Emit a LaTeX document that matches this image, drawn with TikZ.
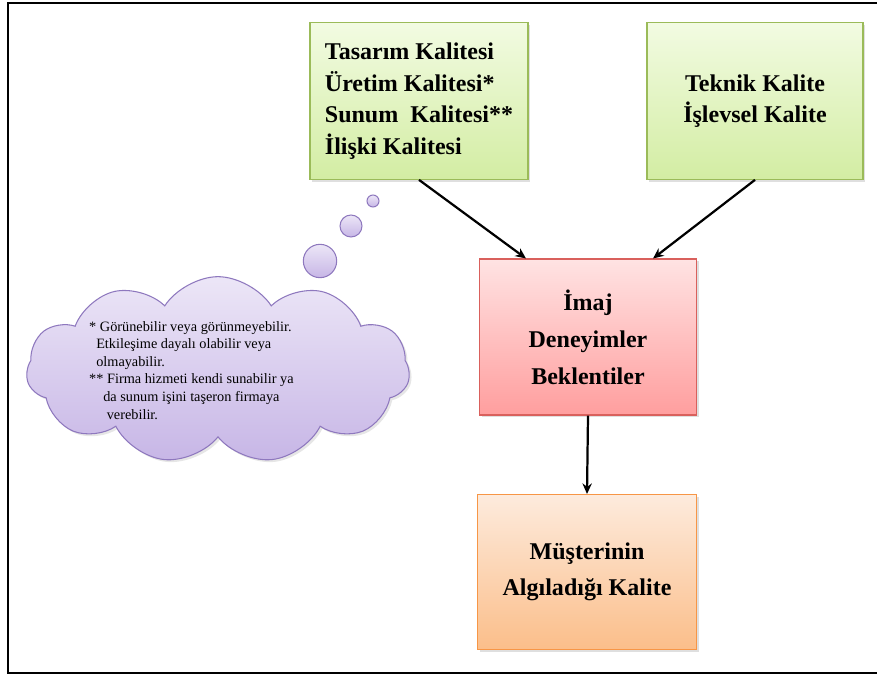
\documentclass[tikz,border=0pt]{standalone}
\usepackage{fontspec}
\setmainfont{Liberation Serif}
\usetikzlibrary{arrows.meta,shapes.symbols,shadows}

\definecolor{yesilkenar}{HTML}{9BBB59}
\definecolor{yesilust}{HTML}{F2FBE2}
\definecolor{yesilalt}{HTML}{D3EDA3}
\definecolor{kirmizikenar}{HTML}{D9605C}
\definecolor{kirmiziust}{HTML}{FFE3E3}
\definecolor{kirmizialt}{HTML}{FF9E9E}
\definecolor{turuncukenar}{HTML}{F79646}
\definecolor{turuncuust}{HTML}{FDEBDD}
\definecolor{turuncualt}{HTML}{FBBE8A}
\definecolor{morkenar}{HTML}{8E78BE}
\definecolor{morust}{HTML}{ECE6F7}
\definecolor{moralt}{HTML}{C7B6E6}

\tikzset{
  kutu/.style={draw, line width=0.9pt, minimum width=6.54cm, minimum height=4.7cm,
    font=\fontsize{20.5}{27}\selectfont\bfseries,
    drop shadow={opacity=0.25, shadow xshift=2pt, shadow yshift=-2pt}},
  yesil/.style={kutu, draw=yesilkenar, top color=yesilust, bottom color=yesilalt},
  kirmizi/.style={kutu, draw=kirmizikenar, top color=kirmiziust, bottom color=kirmizialt,
    font=\fontsize{20.5}{31.5}\selectfont\bfseries},
  turuncu/.style={kutu, draw=turuncukenar, top color=turuncuust, bottom color=turuncualt,
    font=\fontsize{20.5}{31}\selectfont\bfseries},
  balon/.style={circle, draw=morkenar, line width=0.9pt, top color=morust, bottom color=moralt,
    inner sep=0pt},
  ok/.style={-{Stealth[length=9pt,width=8pt]}, line width=1.9pt}
}

\begin{document}
\begin{tikzpicture}[x=0.03cm, y=-0.03cm]
\useasboundingbox (0,0) rectangle (877,677);
% cerceve
\draw[line width=1.7pt] (8,3) rectangle (900,673);

% kutular
\node[yesil, align=left] (tasarim) at (419,101)
  {Tasarım Kalitesi\\ Üretim Kalitesi*\\ Sunum\ \ Kalitesi**\\ İlişki Kalitesi};
\node[yesil, align=center, minimum width=6.48cm] (teknik) at (755,101)
  {Teknik Kalite\\ İşlevsel Kalite};
\node[kirmizi, align=center, minimum width=6.51cm, minimum height=4.68cm] (imaj) at (588,337)
  {İmaj\\ Deneyimler\\ Beklentiler};
\node[turuncu, align=center, minimum width=6.57cm, minimum height=4.65cm] (algi) at (587,572)
  {Müşterinin\\ Algıladığı Kalite};

% bulut
\node[cloud, cloud puffs=11, cloud puff arc=115, aspect=2, draw=morkenar, line width=0.9pt,
  top color=morust, bottom color=moralt, minimum width=11.5cm, minimum height=5.6cm,
  drop shadow={opacity=0.2, shadow xshift=2pt, shadow yshift=-2pt}] (bulut) at (218,370) {};
\node[balon, minimum size=0.36cm] (balon1) at (373,201) {};
\node[balon, minimum size=0.66cm] (balon2) at (351,226) {};
\node[balon, minimum size=1.0cm] (balon3) at (320,261) {};
\node[anchor=north west, align=left, inner sep=0pt,
  font=\fontsize{12.2}{15}\selectfont] (dipnot) at (89,321)
  {* Görünebilir veya görünmeyebilir.\\
   \hspace*{6pt}Etkileşime dayalı olabilir veya\\
   \hspace*{6pt}olmayabilir.\\
   ** Firma hizmeti kendi sunabilir ya\\
   \hspace*{12pt}da sunum işini taşeron firmaya\\
   \hspace*{15pt}verebilir.};

% oklar
\draw[ok] (tasarim.south) -- ([xshift=1.41cm]imaj.north west);
\draw[ok] (teknik.south) -- ([xshift=-1.32cm]imaj.north east);
\draw[ok] (imaj.south) -- (algi.north);
\end{tikzpicture}
\end{document}
